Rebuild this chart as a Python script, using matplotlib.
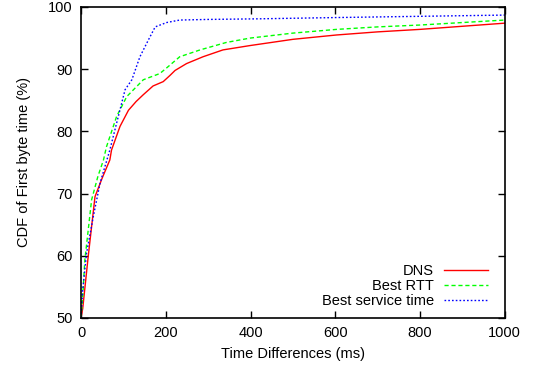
import matplotlib
matplotlib.use('Agg')
import matplotlib.pyplot as plt

plt.rcParams['font.family'] = ['Liberation Sans', 'DejaVu Sans']

# DNS
dns_x = [0, 4, 17, 33, 50, 68, 72, 92, 112, 130, 147, 170, 194, 210, 222, 249, 288, 335, 399, 500, 603, 700, 800, 900, 1000]
dns_y = [50.0, 51.5, 59.9, 69.5, 72.5, 75.4, 77.0, 80.8, 83.4, 84.8, 85.9, 87.3, 88.0, 89.0, 89.8, 90.9, 92.0, 93.1, 93.8, 94.8, 95.5, 96.0, 96.4, 96.9, 97.4]

# Best RTT
rtt_x = [0, 4, 9, 25, 40, 53, 60, 84, 108, 147, 186, 202, 233, 281, 343, 399, 500, 603, 700, 800, 900, 1000]
rtt_y = [50.0, 53.4, 59.3, 69.0, 72.8, 75.4, 77.5, 82.4, 85.6, 88.3, 89.3, 90.2, 92.0, 93.1, 94.3, 95.0, 95.8, 96.4, 96.8, 97.1, 97.5, 97.9]

# Best service time
svc_x = [0, 4, 13, 29, 45, 68, 88, 104, 120, 139, 159, 175, 202, 233, 300, 422, 600, 800, 1000]
svc_y = [50.0, 54.5, 60.4, 66.3, 71.7, 77.0, 82.4, 86.7, 88.3, 92.0, 94.7, 96.8, 97.5, 97.9, 98.0, 98.1, 98.3, 98.5, 98.7]

x_ticks = [0, 200, 400, 600, 800, 1000]
y_ticks = [50, 60, 70, 80, 90, 100]

fs = 10.5

fig = plt.figure(figsize=(5.33, 3.68), dpi=100)
ax = fig.add_axes([0.152, 0.136, 0.795, 0.845])

ax.plot(dns_x, dns_y, color='#ff0000', lw=1.0, label='DNS')
ax.plot(rtt_x, rtt_y, color='#00ff00', lw=1.0, ls=(0, (3, 2)), label='Best RTT')
ax.plot(svc_x, svc_y, color='#0000ff', lw=1.0, ls=(0, (1.2, 1.5)), label='Best service time')

ax.set_xlim(0, 1000)
ax.set_ylim(50, 100)
ax.set_xticks(x_ticks)
ax.set_yticks(y_ticks)
ax.tick_params(direction='in', top=True, right=True, length=5, width=1, labelsize=fs, pad=6)
for s in ax.spines.values():
    s.set_linewidth(1.2)

ax.set_xlabel('Time Differences (ms)', fontsize=fs, labelpad=5)
ax.set_ylabel('CDF of First byte time (%)', fontsize=fs, labelpad=12)

ax.legend(loc='lower right', markerfirst=False, frameon=False, fontsize=fs,
          handlelength=3.0, handletextpad=0.7, labelspacing=0.05,
          borderaxespad=0.3, bbox_to_anchor=(0.985, 0.0))

fig.savefig('out.png', dpi=100)
